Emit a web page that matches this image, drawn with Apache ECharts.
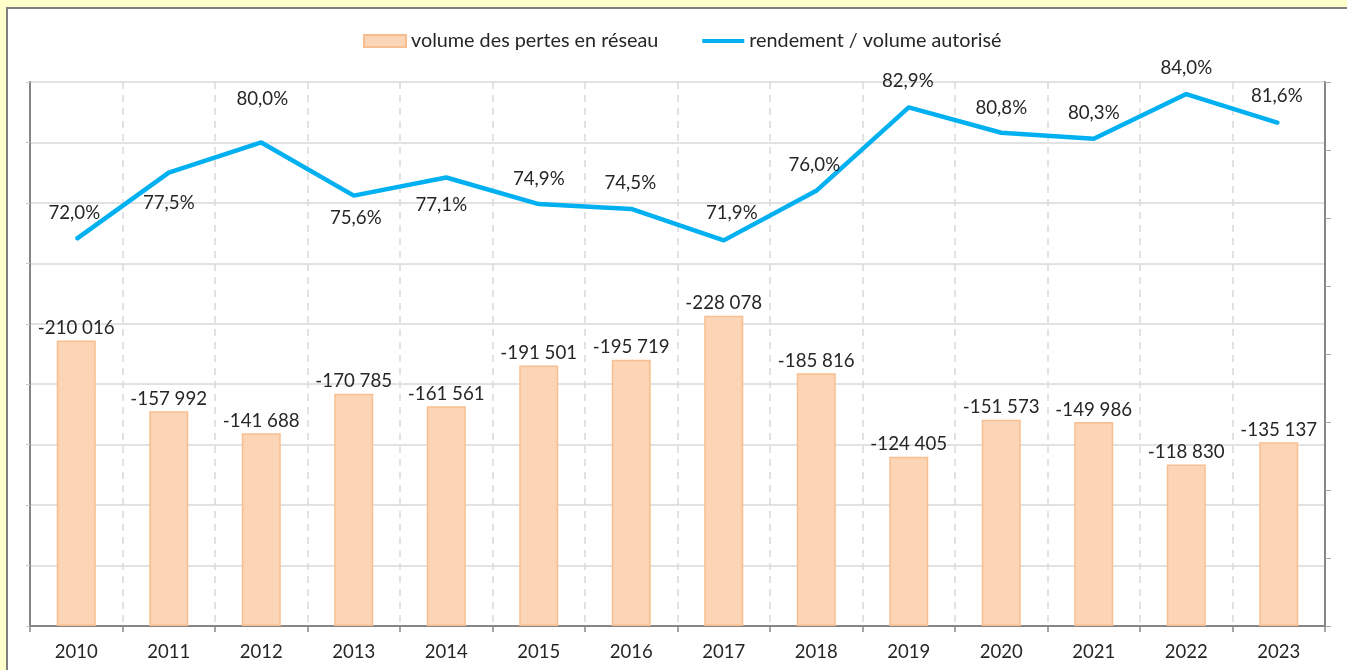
<!DOCTYPE html>
<html>
<head>
<meta charset="utf-8">
<script src="https://cdn.jsdelivr.net/npm/echarts@6/dist/echarts.min.js"></script>
<style>
html,body{margin:0;padding:0;background:#FFFFCC;}
#chart{width:1347px;height:670px;}
</style>
</head>
<body>
<div id="chart"></div>
<script>
const years = ['2010','2011','2012','2013','2014','2015','2016','2017','2018','2019','2020','2021','2022','2023'];
const lossVolumes = [-210016,-157992,-141688,-170785,-161561,-191501,-195719,-228078,-185816,-124405,-151573,-149986,-118830,-135137];
const yieldRates = [72.0,77.5,80.0,75.6,77.1,74.9,74.5,71.9,76.0,82.9,80.8,80.3,84.0,81.6];
const seriesNames = ['volume des pertes en réseau','rendement / volume autorisé'];
// label placement offsets (dx, dy) from each line point to label centre
const lineLabelOffsets = [[-2,-26],[0,30],[1,-43],[2,22],[-5,27],[0,-25],[-1,-26],[8,-27],[-2,-26],[-1,-26],[0,-25],[0,-26],[0,-26],[-2,-27]];

const FONT = 'Lato';
const TXT = '#262626';

function fmtVol(v){
  const s = Math.abs(v).toString().replace(/\B(?=(\d{3})+(?!\d))/g,' ');
  return (v < 0 ? '-' : '') + s;
}
function fmtPct(v){ return v.toFixed(1).replace('.', ',') + '%'; }

const chart = echarts.init(document.getElementById('chart'));
chart.setOption({
  backgroundColor: '#FFFFCC',
  animation: false,
  textStyle: { fontFamily: FONT },
  graphic: [{
    type: 'rect', z: -10, silent: true,
    shape: { x: 7, y: 8, width: 1345, height: 670 },
    style: { fill: '#FFFFFF', stroke: '#7F7F7F', lineWidth: 2 }
  }],
  legend: {
    left: 358, top: 26,
    itemWidth: 42, itemHeight: 12, itemGap: 44,
    textStyle: { fontFamily: FONT, fontSize: 19.8, color: TXT },
    data: [
      { name: seriesNames[0], icon: 'rect' },
      { name: seriesNames[1], icon: 'path://M0,0 L42,0 L42,4 L0,4 Z' }
    ]
  },
  grid: { left: 30, right: 22, top: 82, bottom: 44 },
  xAxis: {
    type: 'category', data: years, boundaryGap: true,
    axisLine: { lineStyle: { color: '#868686', width: 2 } },
    axisTick: { show: true, length: 6, lineStyle: { color: '#868686', width: 1.5 } },
    axisLabel: { fontFamily: FONT, fontSize: 18.5, color: TXT, margin: 17 },
    splitLine: { show: true, lineStyle: { color: '#D9D9D9', width: 1.5, type: [7,6] } }
  },
  yAxis: [{
    type: 'value', min: -400000, max: 0, interval: 400000/9, inverse: true,
    axisLine: { show: true, lineStyle: { color: '#868686', width: 2 } },
    axisTick: { show: true, length: 4, lineStyle: { color: '#C8C8C8' } },
    axisLabel: { show: false },
    splitLine: { show: true, lineStyle: { color: '#D9D9D9', width: 1.5 } }
  },{
    type: 'value', min: 40, max: 85, interval: 5.625,
    axisLine: { show: true, lineStyle: { color: '#868686', width: 2 } },
    axisTick: { show: true, length: 6, lineStyle: { color: '#A6A6A6' } },
    axisLabel: { show: false },
    splitLine: { show: false }
  }],
  series: [{
    name: seriesNames[0], type: 'bar', yAxisIndex: 0,
    data: lossVolumes, barWidth: 39,
    itemStyle: { color: '#FBD5B5', borderColor: '#F9BE8F', borderWidth: 1.5 },
    label: { show: true, position: 'top', distance: 3, fontFamily: FONT, fontSize: 18.7, color: TXT,
             formatter: p => fmtVol(p.value) }
  },{
    name: seriesNames[1], type: 'line', yAxisIndex: 1,
    data: yieldRates.map((v, i) => ({
      value: v,
      label: { position: [1 + lineLabelOffsets[i][0], 1 + lineLabelOffsets[i][1]] }
    })),
    symbol: 'circle', symbolSize: 2,
    itemStyle: { color: '#00B0F0' },
    lineStyle: { color: '#00B0F0', width: 4.5 },
    label: { show: true, align: 'center', verticalAlign: 'middle', fontFamily: FONT, fontSize: 18.7, color: TXT,
             formatter: p => fmtPct(p.value) },
    z: 5
  }]
});
</script>
</body>
</html>
